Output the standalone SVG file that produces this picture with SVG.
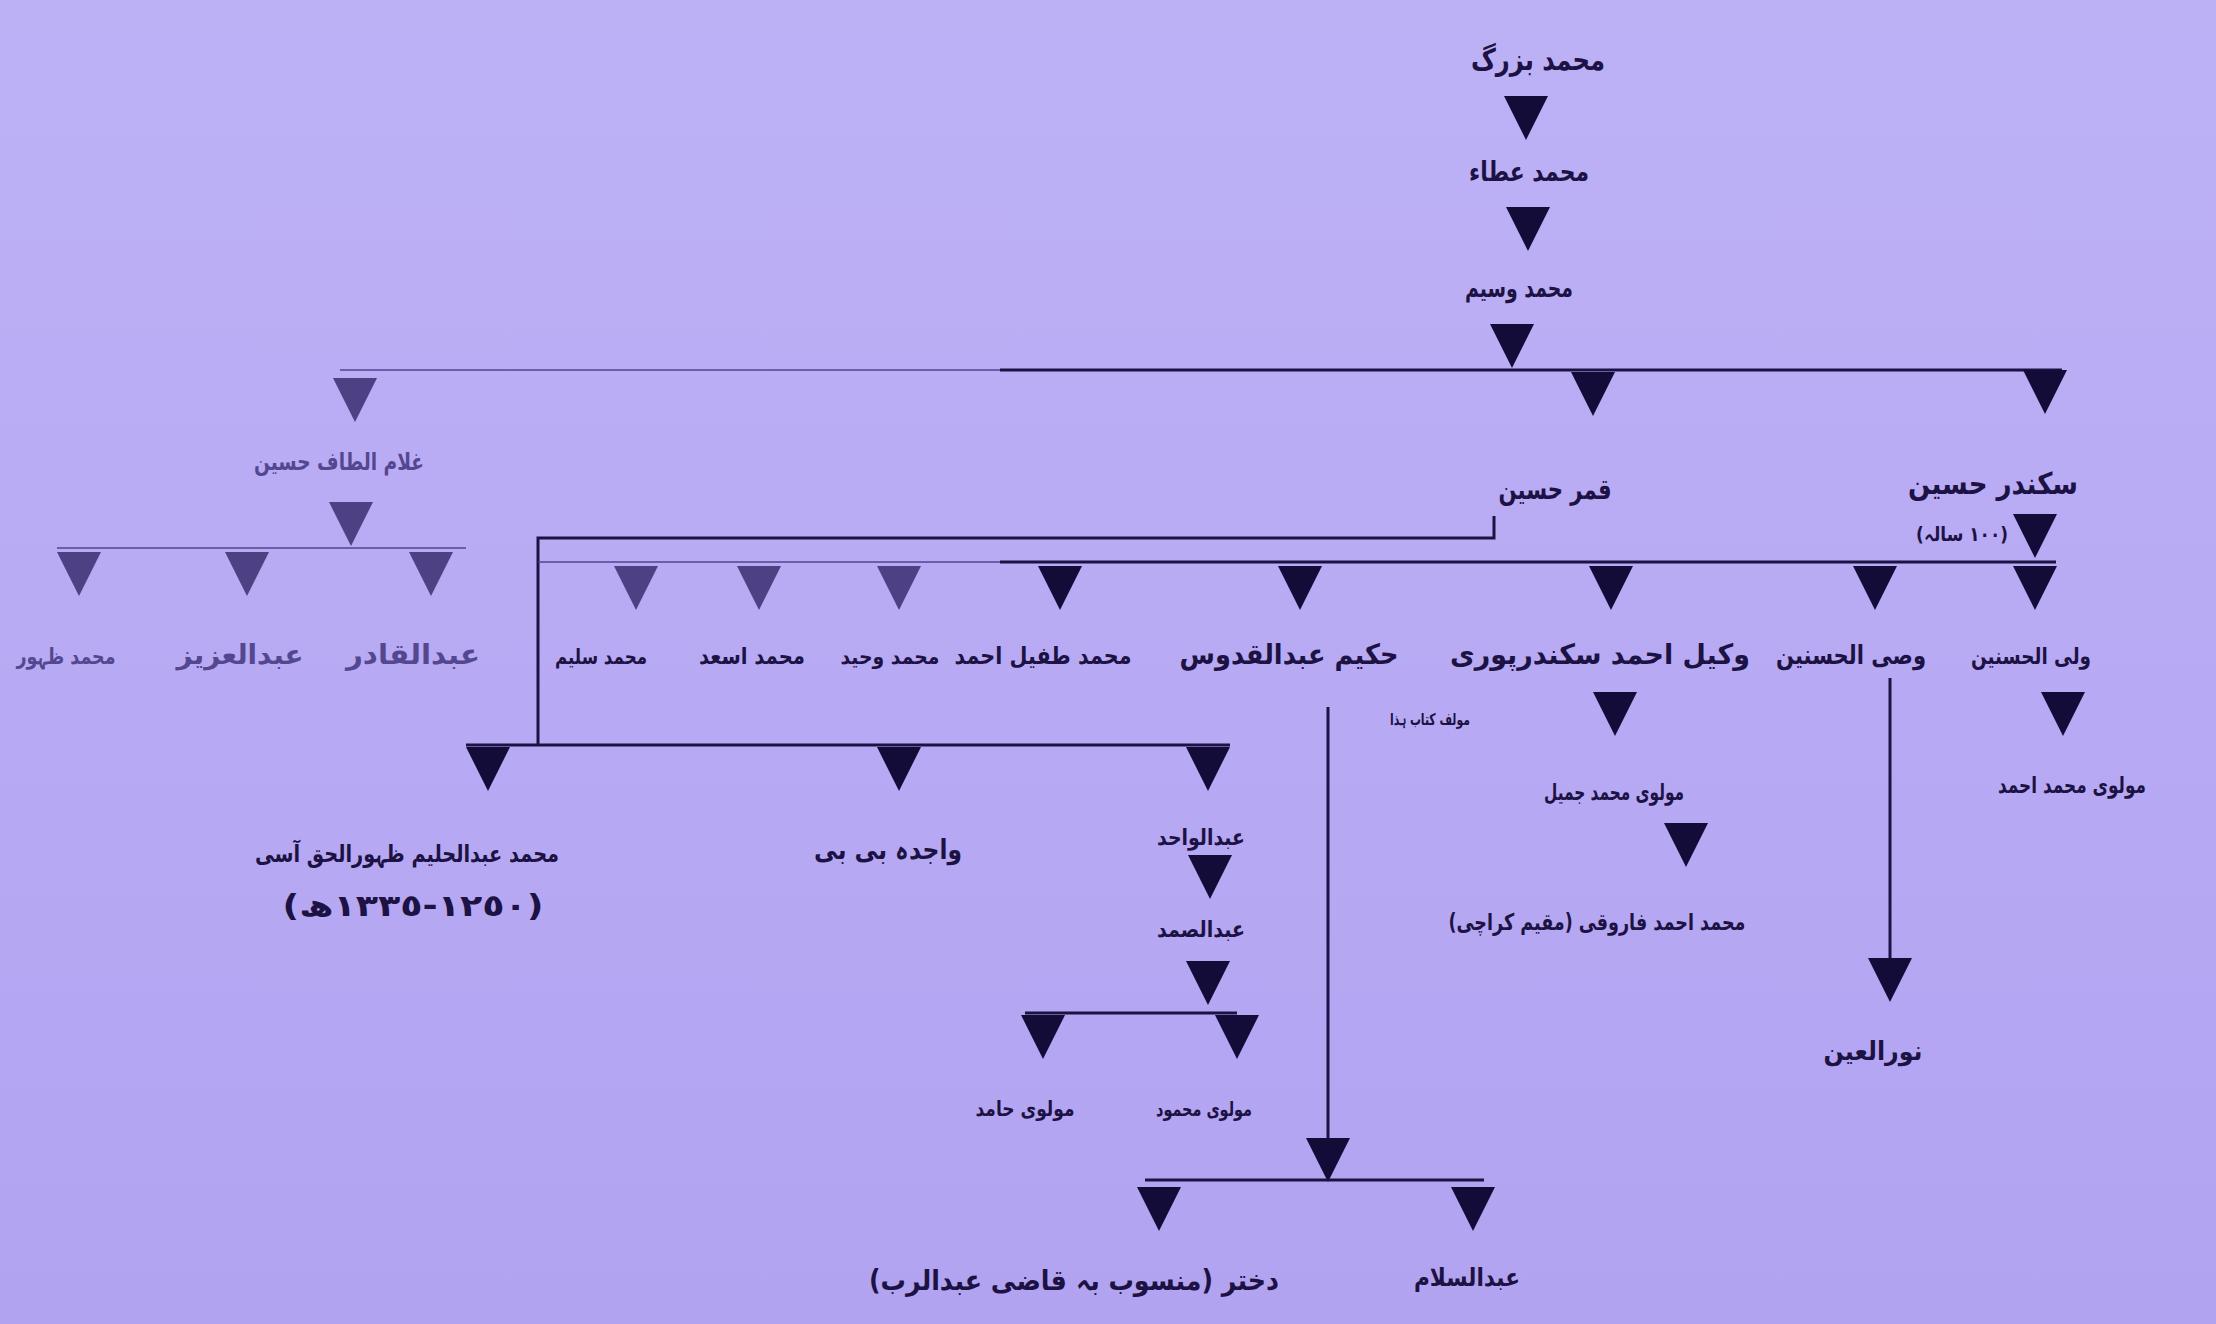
<svg xmlns="http://www.w3.org/2000/svg" width="2216" height="1324" viewBox="0 0 2216 1324">
<style>
.t{font-family:"DejaVu Sans","Noto Sans",sans-serif;font-size:26px;fill:#1c1244;text-anchor:middle;direction:rtl;font-weight:bold}
.f{fill:#3b2f78;opacity:.8}
.ln{stroke:#1c1244;stroke-width:3;fill:none}
.lf{stroke:#4a3d88;stroke-width:2;fill:none;opacity:.7}
.ar{fill:#140c38}
.af{fill:#3a2e70;opacity:.85}
</style>
<defs>
<path id="tri" d="M-22,0 L22,0 L0,44 Z"/>
<linearGradient id="bg" x1="0" y1="0" x2="0" y2="1">
<stop offset="0" stop-color="#bdb1f6"/>
<stop offset="1" stop-color="#b2a3f1"/>
</linearGradient>
</defs>
<rect width="2216" height="1324" fill="url(#bg)"/>
<g id="connectors">
<use href="#tri" class="ar" x="1526" y="96"/>
<use href="#tri" class="ar" x="1528" y="207"/>
<use href="#tri" class="ar" x="1512" y="324"/>
<path class="lf" d="M340,370 H1000"/>
<path class="ln" d="M1000,370 H2062"/>
<use href="#tri" class="af" x="355" y="378"/>
<use href="#tri" class="ar" x="1593" y="372"/>
<use href="#tri" class="ar" x="2045" y="370"/>
<use href="#tri" class="af" x="351" y="502"/>
<path class="lf" d="M57,548 H466"/>
<use href="#tri" class="af" x="79" y="552"/>
<use href="#tri" class="af" x="247" y="552"/>
<use href="#tri" class="af" x="431" y="552"/>
<path class="ln" d="M1494,516 V538 H538 V745"/>
<path class="lf" d="M538,562 H1000"/>
<path class="ln" d="M1000,562 H2056"/>
<use href="#tri" class="ar" x="2035" y="514"/>
<use href="#tri" class="af" x="636" y="566"/>
<use href="#tri" class="af" x="759" y="566"/>
<use href="#tri" class="af" x="899" y="566"/>
<use href="#tri" class="ar" x="1060" y="566"/>
<use href="#tri" class="ar" x="1300" y="566"/>
<use href="#tri" class="ar" x="1611" y="566"/>
<use href="#tri" class="ar" x="1875" y="566"/>
<use href="#tri" class="ar" x="2035" y="566"/>
<path class="ln" d="M466,745 H1230"/>
<use href="#tri" class="ar" x="488" y="747"/>
<use href="#tri" class="ar" x="899" y="747"/>
<use href="#tri" class="ar" x="1208" y="747"/>
<use href="#tri" class="ar" x="1210" y="855"/>
<use href="#tri" class="ar" x="1208" y="961"/>
<path class="ln" d="M1025,1013 H1237"/>
<use href="#tri" class="ar" x="1043" y="1015"/>
<use href="#tri" class="ar" x="1237" y="1015"/>
<path class="ln" d="M1328,707 V1145"/>
<use href="#tri" class="ar" x="1328" y="1138"/>
<path class="ln" d="M1145,1180 H1484"/>
<use href="#tri" class="ar" x="1159" y="1187"/>
<use href="#tri" class="ar" x="1473" y="1187"/>
<use href="#tri" class="ar" x="1615" y="692"/>
<use href="#tri" class="ar" x="1686" y="823"/>
<path class="ln" d="M1890,678 V961"/>
<use href="#tri" class="ar" x="1890" y="958"/>
<use href="#tri" class="ar" x="2063" y="692"/>
</g>
<g id="nodes">
<g id="n-muhammad-buzurg"><text class="t" x="1538" y="70" style="font-size:30px" textLength="134" lengthAdjust="spacingAndGlyphs">محمد بزرگ</text></g>
<g id="n-muhammad-ata"><text class="t" x="1529" y="181" style="font-size:27px" textLength="120" lengthAdjust="spacingAndGlyphs">محمد عطاء</text></g>
<g id="n-muhammad-wasim"><text class="t" x="1519" y="297" style="font-size:26px" textLength="108" lengthAdjust="spacingAndGlyphs">محمد وسیم</text></g>
<g id="n-ghulam-altaf"><text class="t f" x="339" y="470" style="font-size:24px" textLength="170" lengthAdjust="spacingAndGlyphs">غلام الطاف حسین</text></g>
<g id="n-qamar"><text class="t" x="1555" y="499" style="font-size:28px" textLength="113" lengthAdjust="spacingAndGlyphs">قمر حسین</text></g>
<g id="n-sikandar"><text class="t" x="1993" y="494" style="font-size:30px" textLength="170" lengthAdjust="spacingAndGlyphs">سکندر حسین</text><text class="t" x="1962" y="541" style="font-size:20px" textLength="92" lengthAdjust="spacingAndGlyphs">(۱۰۰ سالہ)</text></g>
<g id="n-zahoor"><text class="t f" x="66" y="664" style="font-size:22px" textLength="99" lengthAdjust="spacingAndGlyphs">محمد ظہور</text></g>
<g id="n-abdulaziz"><text class="t f" x="240" y="664" style="font-size:27px" textLength="127" lengthAdjust="spacingAndGlyphs">عبدالعزیز</text></g>
<g id="n-abdulqadir"><text class="t f" x="413" y="664" style="font-size:28px" textLength="134" lengthAdjust="spacingAndGlyphs">عبدالقادر</text></g>
<g id="n-salim"><text class="t" x="601" y="664" style="font-size:21px" textLength="92" lengthAdjust="spacingAndGlyphs">محمد سلیم</text></g>
<g id="n-asad"><text class="t" x="752" y="664" style="font-size:23px" textLength="106" lengthAdjust="spacingAndGlyphs">محمد اسعد</text></g>
<g id="n-wahid"><text class="t" x="890" y="664" style="font-size:21px" textLength="99" lengthAdjust="spacingAndGlyphs">محمد وحید</text></g>
<g id="n-tufail"><text class="t" x="1043" y="664" style="font-size:24px" textLength="177" lengthAdjust="spacingAndGlyphs">محمد طفیل احمد</text></g>
<g id="n-quddus"><text class="t" x="1289" y="664" style="font-size:28px" textLength="219" lengthAdjust="spacingAndGlyphs">حکیم عبدالقدوس</text></g>
<g id="n-wakil"><text class="t" x="1600" y="664" style="font-size:28px" textLength="300" lengthAdjust="spacingAndGlyphs">وکیل احمد سکندرپوری</text><text class="t" x="1430" y="725" style="font-size:16px" textLength="80" lengthAdjust="spacingAndGlyphs">مولف کتاب ہذا</text></g>
<g id="n-wasi"><text class="t" x="1851" y="664" style="font-size:26px" textLength="150" lengthAdjust="spacingAndGlyphs">وصی الحسنین</text></g>
<g id="n-wali"><text class="t" x="2031" y="664" style="font-size:23px" textLength="120" lengthAdjust="spacingAndGlyphs">ولی الحسنین</text></g>
<g id="n-jamil"><text class="t" x="1614" y="800" style="font-size:23px" textLength="140" lengthAdjust="spacingAndGlyphs">مولوی محمد جمیل</text></g>
<g id="n-farooqi"><text class="t" x="1597" y="930" style="font-size:23px" textLength="297" lengthAdjust="spacingAndGlyphs">محمد احمد فاروقی (مقیم کراچی)</text></g>
<g id="n-m-ahmad"><text class="t" x="2072" y="793" style="font-size:23px" textLength="148" lengthAdjust="spacingAndGlyphs">مولوی محمد احمد</text></g>
<g id="n-noorulain"><text class="t" x="1873" y="1060" style="font-size:26px" textLength="99" lengthAdjust="spacingAndGlyphs">نورالعین</text></g>
<g id="n-abdulhalim"><text class="t" x="407" y="862" style="font-size:24px" textLength="304" lengthAdjust="spacingAndGlyphs">محمد عبدالحلیم ظہورالحق آسی</text><text class="t" x="413" y="916" style="font-size:30px" textLength="261" lengthAdjust="spacingAndGlyphs">(١٢٥٠-١٣٣٥ھ)</text></g>
<g id="n-wajida"><text class="t" x="888" y="859" style="font-size:27px" textLength="148" lengthAdjust="spacingAndGlyphs">واجدہ بی بی</text></g>
<g id="n-abdulwahid"><text class="t" x="1201" y="845" style="font-size:22px" textLength="88" lengthAdjust="spacingAndGlyphs">عبدالواحد</text></g>
<g id="n-abdussamad"><text class="t" x="1201" y="937" style="font-size:22px" textLength="88" lengthAdjust="spacingAndGlyphs">عبدالصمد</text></g>
<g id="n-hamid"><text class="t" x="1025" y="1116" style="font-size:21px" textLength="99" lengthAdjust="spacingAndGlyphs">مولوی حامد</text></g>
<g id="n-mahmood"><text class="t" x="1204" y="1116" style="font-size:20px" textLength="96" lengthAdjust="spacingAndGlyphs">مولوی محمود</text></g>
<g id="n-dukhtar"><text class="t" x="1074" y="1290" style="font-size:28px" textLength="410" lengthAdjust="spacingAndGlyphs">دختر (منسوب بہ قاضی عبدالرب)</text></g>
<g id="n-abdussalam"><text class="t" x="1467" y="1286" style="font-size:25px" textLength="106" lengthAdjust="spacingAndGlyphs">عبدالسلام</text></g>
</g>
</svg>
